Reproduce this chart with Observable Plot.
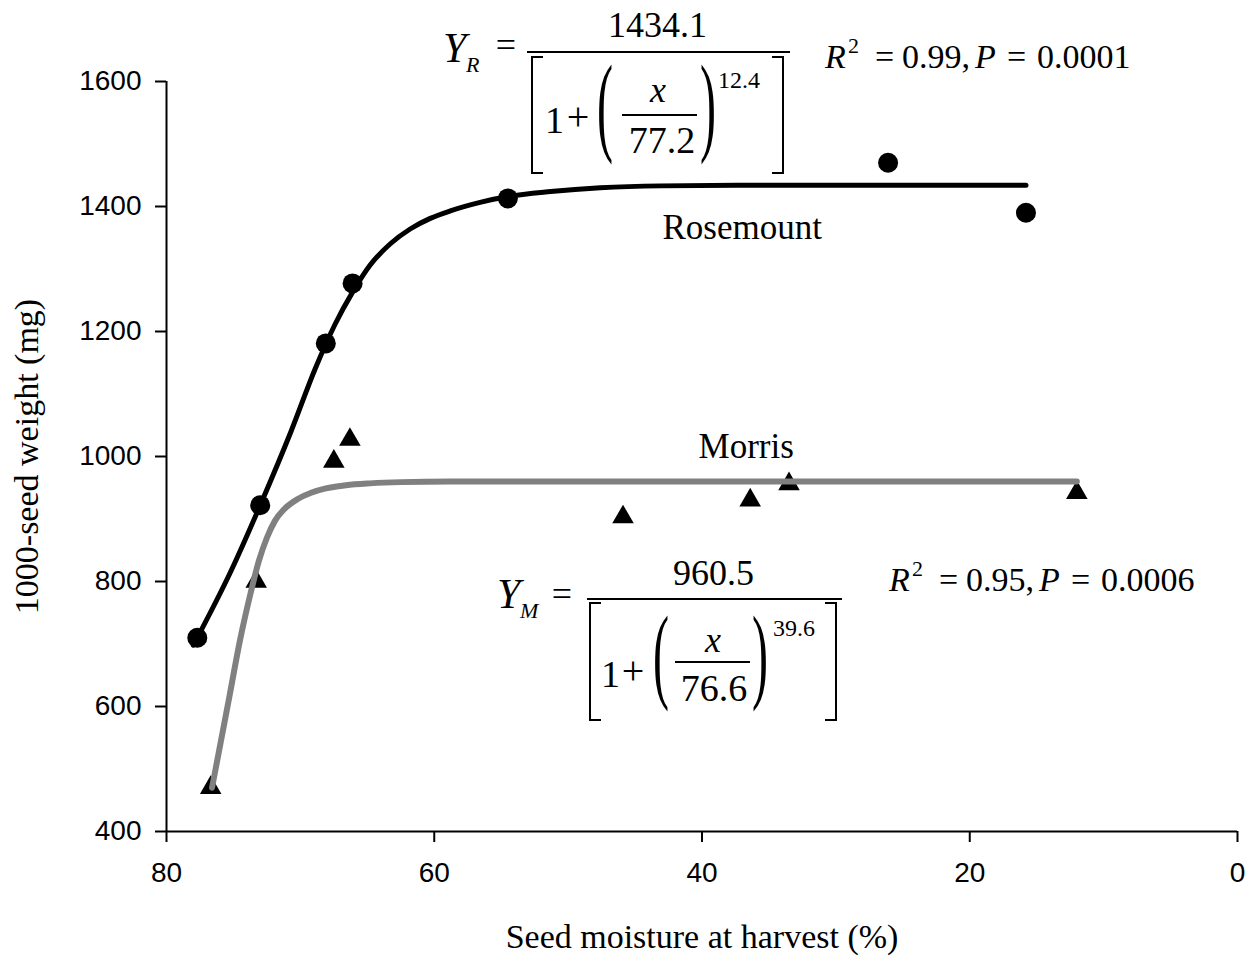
<!DOCTYPE html>
<html><head><meta charset="utf-8">
<script src="https://cdn.jsdelivr.net/npm/d3@7"></script>
<script src="https://cdn.jsdelivr.net/npm/@observablehq/plot@0.6"></script>
<style>
html,body{margin:0;padding:0;background:#fff;}
#wrap{position:relative;width:1259px;height:958px;}
#wrap > svg{position:absolute;left:0;top:0;}
</style></head><body><div id="wrap"></div>
<script>
// ---- data ----
const xTicks = [80, 60, 40, 20, 0];
const yTicks = [400, 600, 800, 1000, 1200, 1400, 1600];
const xLabel = "Seed moisture at harvest (%)";
const yLabel = "1000-seed weight (mg)";

// Rosemount observations (circles)
const rosemountX = [77.7, 73.0, 68.1, 66.1, 54.5, 26.1, 15.8];
const rosemountY = [710, 922, 1181, 1277, 1413, 1470, 1390];
// Morris observations (triangles)
const morrisX = [76.7, 73.3, 67.5, 66.3, 45.9, 36.4, 33.5, 12.0];
const morrisY = [470, 800, 992, 1027, 903, 930, 956, 942];

// fitted curves, points
const rosemountFitX = [78.0, 75.2, 73.0, 70.7, 68.9, 67.4, 66.1, 64.8, 63.3, 61.8, 60.3, 58.8, 56.5, 54.5, 51.3, 47.6, 43.1, 35.6, 25.2, 15.8];
const rosemountFitY = [698, 816, 922, 1040, 1140, 1212, 1263, 1306, 1340, 1364, 1381, 1393, 1407, 1416, 1424, 1430, 1433, 1434, 1434, 1434];
const morrisFitX = [76.6, 75.3, 74.5, 73.7, 73.1, 72.5, 71.9, 71.1, 70.2, 69.2, 68.1, 66.6, 64.8, 62.5, 58.8, 30.0, 12.0];
const morrisFitY = [470, 616, 707, 783, 833, 870, 897, 918, 932, 942, 949, 954, 957, 959, 960, 960, 960];

const siteLabels = ["Rosemount", "Morris"];
const siteLabelX = [37.0, 36.7];
const siteLabelY = [1366, 1016];

const rosemount = rosemountX.map((x, i) => ({x, y: rosemountY[i]}));
const morris = morrisX.map((x, i) => ({x, y: morrisY[i]}));
const rosemountFit = rosemountFitX.map((x, i) => ({x, y: rosemountFitY[i]}));
const morrisFit = morrisFitX.map((x, i) => ({x, y: morrisFitY[i]}));
const labels = siteLabels.map((t, i) => ({t, x: siteLabelX[i], y: siteLabelY[i]}));

const serif = "'Liberation Serif', 'Times New Roman', serif";

const chart = Plot.plot({
  width: 1259, height: 958,
  marginLeft: 166, marginRight: 22, marginTop: 81, marginBottom: 127,
  x: {domain: [xTicks[0], xTicks[xTicks.length - 1]]},
  y: {domain: [yTicks[0], yTicks[yTicks.length - 1]]},
  style: {background: "white", fontFamily: "'Liberation Sans', Arial, sans-serif", color: "black", overflow: "visible"},
  marks: [
    Plot.axisX({ticks: xTicks, tickSize: 11, tickPadding: 20, fontSize: 28, label: null, strokeWidth: 2, tickFormat: d => String(d)}),
    Plot.axisY({ticks: yTicks, tickSize: 11, tickPadding: 14, fontSize: 28, label: null, strokeWidth: 2, tickFormat: d => String(d)}),
    Plot.ruleY([yTicks[0]], {stroke: "black", strokeWidth: 2}),
    Plot.ruleX([xTicks[0]], {stroke: "black", strokeWidth: 2}),
    Plot.dot(morris, {x: "x", y: "y", symbol: "triangle", r: 8, fill: "black", stroke: "none"}),
    Plot.dot(rosemount, {x: "x", y: "y", symbol: "circle", r: 10, fill: "black", stroke: "none"}),
    Plot.line(rosemountFit, {x: "x", y: "y", stroke: "black", strokeWidth: 5, curve: "monotone-x"}),
    Plot.line(morrisFit, {x: "x", y: "y", stroke: "#808080", strokeWidth: 6, curve: "monotone-x"}),
    Plot.text(labels, {x: "x", y: "y", text: "t", fontSize: 35, fontFamily: serif, fill: "black"}),
    Plot.text([xLabel], {text: d => d, frameAnchor: "bottom", lineAnchor: "middle", textAnchor: "middle", dy: 106, fontSize: 34, fontFamily: serif, fill: "black"}),
    Plot.text([yLabel], {text: d => d, frameAnchor: "left", lineAnchor: "middle", textAnchor: "middle", dx: -139, rotate: -90, fontSize: 34, fontFamily: serif, fill: "black"})
  ]
});
const wrap = document.getElementById("wrap");
wrap.appendChild(chart);

// ---- equation annotations (overlay) ----
const ov = d3.select(wrap).append("svg")
  .attr("width", 1259).attr("height", 958)
  .style("pointer-events", "none")
  .style("font-family", serif);

function txt(str, x, y, size, opts = {}) {
  const t = ov.append("text").attr("x", x).attr("y", y)
    .attr("font-size", size).attr("fill", "black")
    .style("font-family", serif)
    .attr("text-anchor", opts.anchor || "start")
    .text(str);
  if (opts.italic) t.attr("font-style", "italic");
  return t;
}
function paren(str, x, base, sy) {
  ov.append("text").attr("transform", `translate(${x},${base}) scale(1.2,${sy})`)
    .attr("font-size", 40).attr("fill", "black").style("font-family", serif).text(str);
}
function hbar(x1, x2, y) {
  ov.append("line").attr("x1", x1).attr("x2", x2).attr("y1", y).attr("y2", y)
    .attr("stroke", "black").attr("stroke-width", 2);
}
function bracket(xOuter, xInner, y1, y2) {
  ov.append("path").attr("d", `M${xInner},${y1}H${xOuter}V${y2}H${xInner}`)
    .attr("fill", "none").attr("stroke", "black").attr("stroke-width", 2);
}
function equation(e) {
  txt("Y", e.yx, e.yb, 42, {italic: true});
  txt(e.sub, e.yx + 23, e.yb + 10, 22, {italic: true});
  txt("=", e.eqx, e.eqb, 36, {anchor: "middle"});
  txt(e.num, e.numx, e.numb, 36, {anchor: "middle"});
  hbar(e.barx1, e.barx2, e.bary);
  bracket(e.lbx, e.lbx + 11, e.by1, e.by2);
  bracket(e.rbx, e.rbx - 11, e.by1, e.by2);
  txt("1", e.onex, e.oneb, 38);
  txt("+", e.plusx, e.oneb - 3, 40, {anchor: "middle"});
  paren("(", e.lpx, e.pb, e.psy);
  txt("x", e.xx, e.xb, 36, {italic: true, anchor: "middle"});
  hbar(e.ibx1, e.ibx2, e.iby);
  txt(e.den, e.denx, e.denb, 38, {anchor: "middle"});
  paren(")", e.rpx, e.pb, e.psy);
  txt(e.exp, e.expx, e.expb, 24);
}
function stats(s) {
  const x = s.x, b = s.b;
  txt("R", x, b, 34, {italic: true});
  txt("2", x + 23, b - 15, 22);
  txt("=", x + 50, b, 34);
  txt(s.r2, x + 77, b, 34);
  txt("P", x + 150, b, 34, {italic: true});
  txt("=", x + 182, b, 34);
  txt(s.p, x + 212, b, 34);
}

equation({sub: "R", yx: 443, yb: 62, eqx: 506, eqb: 57, num: "1434.1", numx: 657.5, numb: 37,
  barx1: 527, barx2: 790, bary: 52, lbx: 532, rbx: 783, by1: 57, by2: 173,
  onex: 545, oneb: 133, plusx: 578, lpx: 597, pb: 140.8, psy: 2.73,
  xx: 658, xb: 102, ibx1: 622, ibx2: 697, iby: 115, den: "77.2", denx: 662, denb: 153,
  rpx: 700, exp: "12.4", expx: 718, expb: 88});
equation({sub: "M", yx: 497, yb: 608, eqx: 562, eqb: 606, num: "960.5", numx: 713.5, numb: 585,
  barx1: 587, barx2: 842, bary: 599, lbx: 590, rbx: 836, by1: 603, by2: 720,
  onex: 601, oneb: 687, plusx: 633, lpx: 653, pb: 689, psy: 2.67,
  xx: 713, xb: 652, ibx1: 675, ibx2: 750, iby: 662, den: "76.6", denx: 714, denb: 701,
  rpx: 752, exp: "39.6", expx: 773, expb: 636});
stats({x: 825, b: 68, r2: "0.99,", p: "0.0001"});
stats({x: 889, b: 591, r2: "0.95,", p: "0.0006"});
</script></body></html>
